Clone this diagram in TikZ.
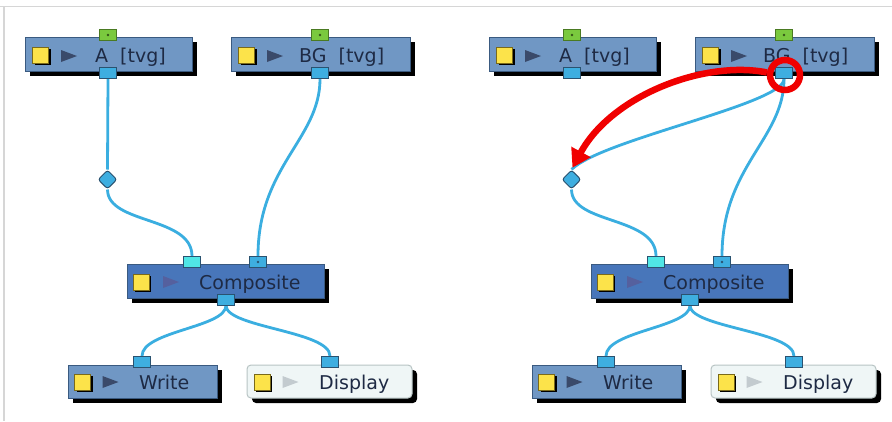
\documentclass[tikz,border=0pt]{standalone}
\usepackage{fontspec}
\setmainfont{DejaVu Sans}
\usetikzlibrary{shapes.geometric,shadows,arrows.meta}
\pgfdeclarelayer{back}
\pgfdeclarelayer{wires}
\pgfsetlayers{back,wires,main}
\definecolor{nodeblue}{HTML}{7097C4}
\definecolor{compblue}{HTML}{4876BA}
\definecolor{nodeedge}{HTML}{3A5A80}
\definecolor{lbltext}{HTML}{1E2A44}
\definecolor{wirecol}{HTML}{3AAEE0}
\definecolor{portblue}{HTML}{3EAEE0}
\definecolor{portedge}{HTML}{2A5270}
\definecolor{portcyan}{HTML}{50E6E6}
\definecolor{portgreen}{HTML}{7AC93E}
\definecolor{greenedge}{HTML}{4A7A22}
\definecolor{yel}{HTML}{FCE34A}
\definecolor{yeledge}{HTML}{7A6A1A}
\definecolor{tridark}{HTML}{3A4A6A}
\definecolor{trimid}{HTML}{55609E}
\definecolor{trilight}{HTML}{C3CBCF}
\definecolor{dispfill}{HTML}{EFF6F6}
\definecolor{dispedge}{HTML}{B8C4C4}
\definecolor{framecol}{HTML}{D6D6D6}
\definecolor{arrowred}{HTML}{F00000}
\tikzset{
  nbox/.style={draw=nodeedge, line width=1pt, fill=nodeblue, inner sep=0pt,
    drop shadow={shadow xshift=5pt, shadow yshift=-5pt, fill=black, opacity=1}},
  cbox/.style={nbox, fill=compblue},
  dbox/.style={draw=dispedge, line width=1pt, fill=dispfill, inner sep=0pt, rounded corners=4pt,
    drop shadow={shadow xshift=5pt, shadow yshift=-5pt, fill=black, opacity=1}},
  ysq/.style={draw=yeledge, fill=yel, minimum size=16pt, inner sep=0pt, line width=0.8pt,
    drop shadow={shadow xshift=2pt, shadow yshift=-2pt, fill=black, opacity=1}},
  lbl/.style={anchor=base west, inner sep=0pt, text=lbltext, font=\fontsize{19}{22}\selectfont},
  bport/.style={draw=portedge, fill=portblue, minimum width=17pt, minimum height=11pt, inner sep=0pt, line width=1pt},
  cport/.style={bport, fill=portcyan},
  gport/.style={bport, draw=greenedge, fill=portgreen},
  dia/.style={diamond, draw=portedge, fill=portblue, minimum size=19pt, inner sep=0pt, line width=1pt, rounded corners=2.5pt},
  wire/.style={draw=wirecol, line width=2.8pt},
  redring/.style={circle, draw=arrowred, line width=6.5pt, minimum size=30pt, inner sep=0pt},
  redarrow/.style={draw=arrowred, line width=6.5pt, -{Triangle[length=18pt,width=21pt]}, shorten >=2pt},
  playtri/.pic={\fill (-8,-6) -- (8,0) -- (-8,6) -- cycle;}
}
\newcommand\nodepanel[2]{%
\begin{scope}[xshift=#1pt]
% A [tvg]
\node[nbox, minimum width=167pt, minimum height=34pt] (A#2) at (108.5,54) {};
\node[ysq] (Ay#2) at (40.5,55) {};
\pic[color=tridark] at (69,56) {playtri};
\node[lbl] (Al#2) at (95,62) {A\hspace{12pt}[tvg]};
\node[gport] (Ain#2) at (108,35) {};
\fill[greenedge!70!black] (Ain#2.center) circle (1.3);
\node[bport] (Aout#2) at (108,73) {};
% BG [tvg]
\node[nbox, minimum width=179pt, minimum height=34pt] (BG#2) at (320.5,54) {};
\node[ysq] (BGy#2) at (246.5,55) {};
\pic[color=tridark] at (275,56) {playtri};
\node[lbl] (BGl#2) at (299,62) {BG\hspace{12pt}[tvg]};
\node[gport] (BGin#2) at (320,35) {};
\fill[greenedge!70!black] (BGin#2.center) circle (1.3);
\node[bport] (BGout#2) at (320,73) {};
% diamond
\node[dia] (D#2) at (107.5,179.5) {};
% Composite
\node[cbox, minimum width=197pt, minimum height=34pt] (C#2) at (225.5,281) {};
\node[ysq] (Cy#2) at (141,282) {};
\pic[color=trimid] at (171,282) {playtri};
\node[lbl] (Cl#2) at (199,289) {Composite};
\node[cport] (Cina#2) at (192,262) {};
\node[bport] (Cinb#2) at (258,262) {};
\fill[portedge] (Cinb#2.center) circle (1.3);
\node[bport] (Cout#2) at (226,299.5) {};
% Write
\node[nbox, minimum width=149pt, minimum height=33pt] (W#2) at (142.5,381.5) {};
\node[ysq] (Wy#2) at (82.5,382) {};
\pic[color=tridark] at (110.5,382) {playtri};
\node[lbl] (Wl#2) at (139,389.5) {Write};
\node[bport] (Win#2) at (142,362) {};
% Display
\node[dbox, minimum width=165pt, minimum height=33pt] (P#2) at (329.5,381.5) {};
\node[ysq] (Py#2) at (262,382) {};
\pic[color=trilight] at (290.5,382) {playtri};
\node[lbl] (Pl#2) at (319,389.5) {Display};
\node[bport] (Pin#2) at (330,362) {};
\end{scope}}

\begin{document}
\begin{tikzpicture}[x=1pt,y=-1pt]
\useasboundingbox (0,0) rectangle (892,421);
\begin{pgfonlayer}{back}
\fill[white] (0,0) rectangle (892,421);
\draw[framecol, line width=1.6pt] (0,6.5) -- (892,6.5);
\draw[framecol, line width=1.6pt] (4,6.5) -- (4,421);
\end{pgfonlayer}

\nodepanel{0}{1}
\nodepanel{464}{2}

\begin{pgfonlayer}{wires}
% left panel
\draw[wire] (Aout1.south) -- (D1.north);
\draw[wire] (D1.south) .. controls +(0,35) and +(0,-40) .. (Cina1.north);
\draw[wire] (BGout1.south) .. controls +(0,60) and +(0,-90) .. (Cinb1.north);
\draw[wire] (Cout1.south) .. controls +(0,22) and +(0,-25) .. (Win1.north);
\draw[wire] (Cout1.south) .. controls +(0,22) and +(0,-25) .. (Pin1.north);
% right panel
\draw[wire] (BGout2.south) .. controls +(0,25) and +(30,-30) .. (D2.north);
\draw[wire] (D2.south) .. controls +(0,35) and +(0,-40) .. (Cina2.north);
\draw[wire] (BGout2.south) .. controls +(0,60) and +(0,-90) .. (Cinb2.north);
\draw[wire] (Cout2.south) .. controls +(0,22) and +(0,-25) .. (Win2.north);
\draw[wire] (Cout2.south) .. controls +(0,22) and +(0,-25) .. (Pin2.north);
\end{pgfonlayer}

\node[redring] (ring) at (785,75) {};
\draw[redarrow] (ring.172) .. controls (705,60) and (612,95) .. (D2.north);
\end{tikzpicture}
\end{document}
